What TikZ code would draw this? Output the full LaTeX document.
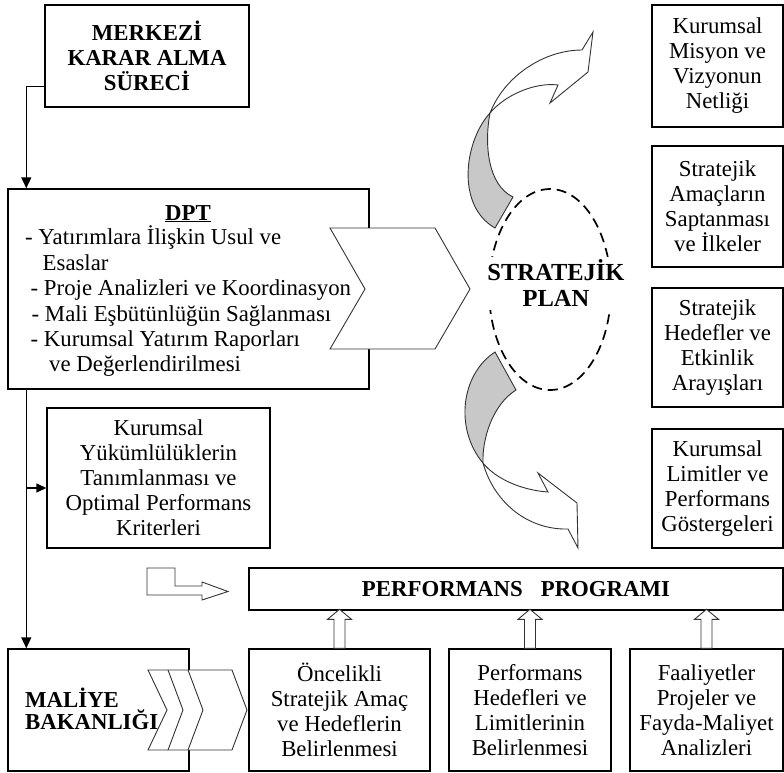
\documentclass[tikz,border=0pt]{standalone}
\usepackage{fontspec}
\setmainfont{Liberation Serif}
\usetikzlibrary{arrows.meta,calc}
\newcommand{\tf}{\fontsize{22.8}{25}\selectfont}
\newcommand{\hollowup}[1]{%
  \draw[shapeline,fill=white] ($(#1.north)+(-5.5,0)$) -- ++(0,-29) -- ++(-6.5,0) -- ++(12,-10) -- ++(12,10) -- ++(-6.5,0) -- ++(0,29) -- cycle;}
\begin{document}
\begin{tikzpicture}[x=1pt,y=-1pt,
  box/.style={draw,line width=1.4pt,inner sep=0pt,align=center,font=\tf},
  txt/.style={inner sep=0pt,font=\tf},
  conn/.style={line width=1.4pt},
  arr/.style={conn,-{Triangle[length=11pt,width=10pt]}},
  sarr/.style={conn,-{Triangle[length=10pt,width=9pt]}},
  shapeline/.style={line width=0.9pt,draw=black!80},
  grayfill/.style={fill={rgb,255:red,200;green,200;blue,200}}]
\useasboundingbox (0,0) rectangle (784,772);

% top-left box
\node[box,minimum width=204pt,minimum height=102pt,font=\tf\bfseries] (merk) at (147,56) {MERKEZİ\\KARAR ALMA\\SÜRECİ};

% DPT box with chevron
\node[box,minimum width=361pt,minimum height=200pt] (dpt) at (188.5,289) {};
\draw[shapeline,fill=white] (330,228) -- (435,228) -- (470,289) -- (435,349) -- (330,349) -- (365,289) -- cycle;
\node[txt,anchor=base,font=\tf\bfseries] (dpth) at (188,220) {\underline{DPT}};
\node[txt,anchor=base west] (d1) at (25,244) {- Yatırımlara İlişkin Usul ve};
\node[txt,anchor=base west] (d2) at (42.5,270) {Esaslar};
\node[txt,anchor=base west] (d3) at (30.5,295) {- Proje Analizleri ve Koordinasyon};
\node[txt,anchor=base west] (d4) at (31.5,321) {- Mali Eşbütünlüğün Sağlanması};
\node[txt,anchor=base west] (d5) at (30.5,346.5) {- Kurumsal Yatırım Raporları};
\node[txt,anchor=base west] (d6) at (49,371) {ve Değerlendirilmesi};

% Kurumsal box
\node[box,minimum width=223pt,minimum height=140pt] (kur) at (158.5,478) {Kurumsal\\Yükümlülüklerin\\Tanımlanması ve\\Optimal Performans\\Kriterleri};

% Maliye box with chevrons
\node[box,minimum width=181pt,minimum height=122pt] (mal) at (98.5,710) {};
\draw[shapeline,fill=white] (148,670) -- (232,670) -- (247,710) -- (232,750) -- (148,750) -- (167,710) -- cycle;
\draw[shapeline] (168,670) -- (183,710) -- (168,750);
\draw[shapeline] (188,670) -- (203,710) -- (188,750);
\node[txt,anchor=base west,font=\tf\bfseries] (mal1) at (25,707) {MALİYE};
\node[txt,anchor=base west,font=\tf\bfseries] (mal2) at (25,729) {BAKANLIĞI};

% connectors on the left
\coordinate (tr) at ([xshift=19pt]dpt.south west);
\draw[arr] ([yshift=21pt]merk.south west) -| ([xshift=19pt]dpt.north west);
\draw[arr] (tr) -- (tr |- mal.north);
\draw[sarr] ([yshift=-10pt]kur.west -| tr) -- ([yshift=-10pt]kur.west);

% performance programme
\node[box,minimum width=534pt,minimum height=42pt,font=\tf\bfseries] (perf) at (516,589) {PERFORMANS\hspace{18pt}PROGRAMI};
\draw[shapeline,fill=white] (147,568) -- (175,568) -- (175,586) -- (202,586) -- (202,582) -- (228,591.5) -- (202,600) -- (202,595) -- (147,595) -- cycle;

% bottom boxes
\node[box,minimum width=181pt,minimum height=122pt] (onc) at (339.5,710) {Öncelikli\\Stratejik Amaç\\ve Hedeflerin\\Belirlenmesi};
\node[box,minimum width=162pt,minimum height=122pt] (phl) at (530,710) {Performans\\Hedefleri ve\\Limitlerinin\\Belirlenmesi};
\node[box,minimum width=153pt,minimum height=122pt] (faal) at (706.5,710) {Faaliyetler\\Projeler ve\\Fayda-Maliyet\\Analizleri};
\hollowup{onc}
\hollowup{phl}
\hollowup{faal}

% right boxes
\node[box,minimum width=131pt,minimum height=122pt] (r1) at (717.5,66) {Kurumsal\\Misyon ve\\Vizyonun\\Netliği};
\node[box,minimum width=131pt,minimum height=121pt] (r2) at (717.5,206.5) {Stratejik\\Amaçların\\Saptanması\\ve İlkeler};
\node[box,minimum width=131pt,minimum height=119pt] (r3) at (717.5,347.5) {Stratejik\\Hedefler ve\\Etkinlik\\Arayışları};
\node[box,minimum width=131pt,minimum height=119pt] (r4) at (717.5,488.5) {Kurumsal\\Limitler ve\\Performans\\Göstergeleri};

% strategic plan
\draw[line width=1.7pt,dash pattern=on 10pt off 6pt] (550,289.5) ellipse [x radius=61pt, y radius=100.5pt];
\node[inner sep=3pt,font=\fontsize{24.5}{26}\selectfont\bfseries,align=center,fill=white] (plan) at (556,283) {STRATEJİK\\PLAN};

% top curved arrow
\draw[shapeline,grayfill] (495,228) .. controls (455,205) and (465,140) .. (490,113)
  .. controls (484,145) and (488,185) .. (513,197) -- cycle;
\draw[shapeline,fill=white] (490,113) .. controls (505,75) and (545,50) .. (582,50)
  -- (593,32) -- (588,72) -- (550,103) -- (558,85)
  .. controls (535,82) and (505,95) .. (490,113) -- cycle;

% bottom curved arrow
\draw[shapeline,grayfill] (495,352) .. controls (460,375) and (455,430) .. (483,463)
  .. controls (482,440) and (492,405) .. (516,390) -- cycle;
\draw[shapeline,fill=white] (483,463) .. controls (495,478) and (520,490) .. (548,492)
  -- (538,473) -- (577,503) -- (578,548) -- (568,529)
  .. controls (530,530) and (495,505) .. (483,463) -- cycle;
\end{tikzpicture}
\end{document}
